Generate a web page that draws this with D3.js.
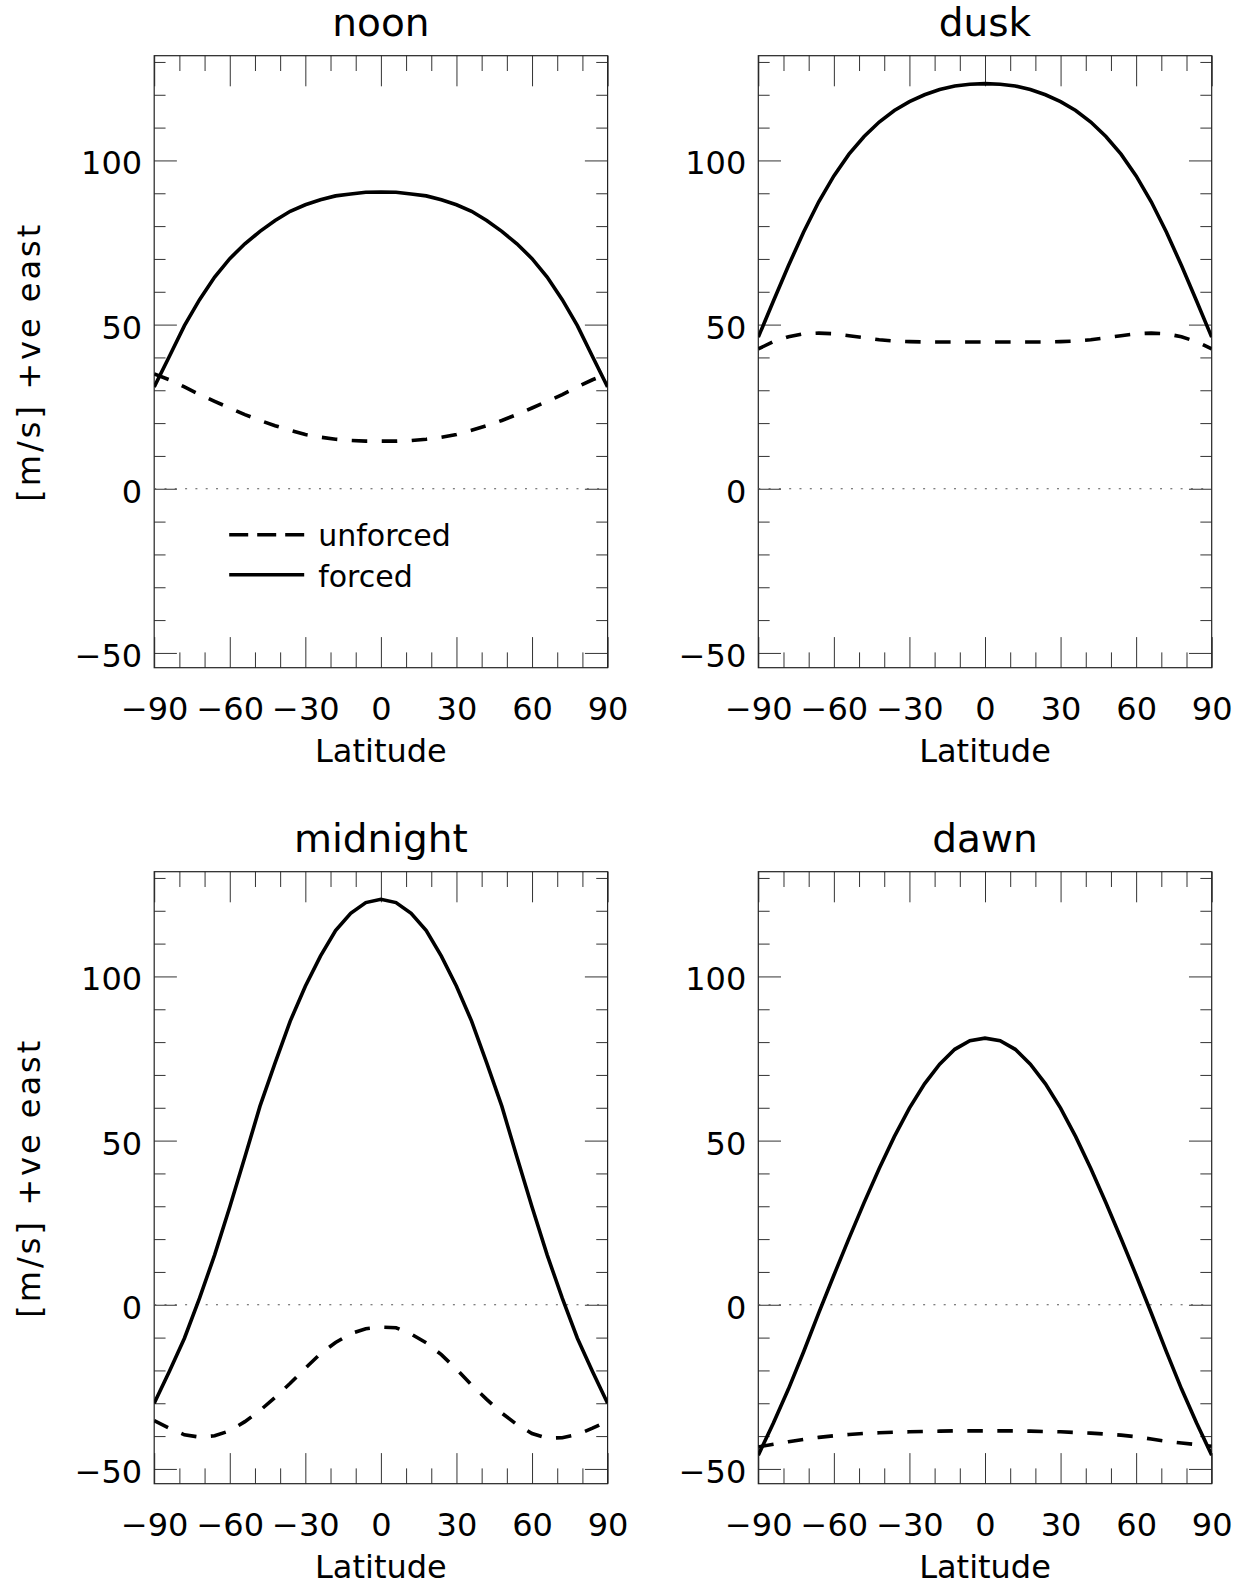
<!DOCTYPE html>
<html>
<head>
<meta charset="utf-8">
<script src="https://cdn.jsdelivr.net/npm/d3@7/dist/d3.min.js"></script>
<style>
  body { margin: 0; background: #fff; }
  svg text { font-family: "DejaVu Sans", sans-serif; fill: #000; }
</style>
</head>
<body>
<div id="chart"></div>
<script>
// latitude grid of the model output
const latitudes = [-90, -84, -78, -72, -66, -60, -54, -48, -42, -36, -30, -24, -18, -12, -6, 0,
  6, 12, 18, 24, 30, 36, 42, 48, 54, 60, 66, 72, 78, 84, 90];

// zonal wind [m/s], +ve east
const noonForced = [31.0, 40.3, 49.7, 57.6, 64.5, 70.1, 74.6, 78.4, 81.7, 84.5, 86.5, 88.0, 89.2, 89.8, 90.3, 90.4,
  90.3, 89.8, 89.2, 88.0, 86.5, 84.5, 81.7, 78.4, 74.6, 70.1, 64.5, 57.6, 49.7, 40.3, 31.0];
const noonUnforced = [35.0, 33.2, 31.0, 28.7, 26.6, 24.6, 22.6, 20.8, 19.2, 17.8, 16.5, 15.7, 15.1, 14.7, 14.5, 14.5,
  14.5, 14.7, 15.1, 15.7, 16.5, 17.8, 19.2, 20.8, 22.6, 24.6, 26.6, 28.7, 31.0, 33.2, 35.0];

const duskForced = [46.2, 57.2, 68.0, 78.2, 87.4, 95.3, 101.9, 107.3, 111.7, 115.2, 117.9, 120.0, 121.6, 122.7, 123.2, 123.4,
  123.2, 122.7, 121.6, 120.0, 117.9, 115.2, 111.7, 107.3, 101.9, 95.3, 87.4, 78.2, 68.0, 57.2, 46.2];
const duskUnforced = [42.6, 44.8, 46.3, 47.2, 47.4, 47.2, 46.6, 46.0, 45.4, 45.0, 44.8, 44.7, 44.7, 44.7, 44.7, 44.7,
  44.7, 44.7, 44.7, 44.7, 44.8, 45.0, 45.4, 46.0, 46.6, 47.2, 47.4, 47.2, 46.3, 44.8, 42.6];

const midnightForced = [-30.0, -20.3, -10.2, 2.0, 15.2, 29.8, 45.0, 60.5, 73.7, 86.4, 97.0, 106.2, 114.0, 119.2, 122.5, 123.5,
  122.5, 119.2, 114.0, 106.2, 97.0, 86.4, 73.7, 60.5, 45.0, 29.8, 15.2, 2.0, -10.2, -20.3, -30.0];
const midnightUnforced = [-35.3, -37.6, -39.6, -40.3, -39.9, -38.4, -35.6, -32.2, -28.2, -23.9, -19.3, -14.9, -11.5, -8.8, -7.3, -6.8,
  -7.0, -8.9, -11.6, -15.2, -19.6, -24.4, -28.8, -33.0, -36.5, -39.2, -40.6, -40.5, -39.5, -37.6, -35.5];

const dawnForced = [-45.8, -36.0, -25.6, -14.3, -2.5, 9.0, 20.2, 31.1, 41.5, 51.2, 59.9, 67.3, 73.3, 77.8, 80.4, 81.2,
  80.4, 77.8, 73.3, 67.3, 59.9, 51.2, 41.5, 31.1, 20.2, 9.0, -2.5, -14.3, -25.6, -36.0, -45.8];
const dawnUnforced = [-43.3, -42.5, -41.7, -41.0, -40.4, -39.9, -39.5, -39.2, -39.0, -38.8, -38.7, -38.6, -38.5, -38.4, -38.4, -38.4,
  -38.4, -38.4, -38.5, -38.6, -38.7, -38.9, -39.1, -39.4, -39.7, -40.2, -40.9, -41.6, -42.1, -42.6, -43.1];

const panelTitles = ["noon", "dusk", "midnight", "dawn"];
const legendLabels = ["unforced", "forced"];

const xMajorTicks = [-90, -60, -30, 0, 30, 60, 90];
const xMinorTicks = [-80, -70, -50, -40, -20, -10, 10, 20, 40, 50, 70, 80];
const yMajorTicks = [-50, 0, 50, 100];
const yMinorTicks = [-40, -30, -20, -10, 10, 20, 30, 40, 60, 70, 80, 90, 110, 120, 130];
const yDomain = [-54.5, 131.9];

const panels = [
  { title: panelTitles[0], forced: noonForced, unforced: noonUnforced, col: 0, row: 0 },
  { title: panelTitles[1], forced: duskForced, unforced: duskUnforced, col: 1, row: 0 },
  { title: panelTitles[2], forced: midnightForced, unforced: midnightUnforced, col: 0, row: 1 },
  { title: panelTitles[3], forced: dawnForced, unforced: dawnUnforced, col: 1, row: 1 }
];

const width = 1240, height = 1585;
const colLeft = [154.2, 758.3];
const rowTop = [55.7, 871.7];
const plotW = 453.4, plotH = 612;
const yTickLen = 22.7, xTickLen = 30.6;
const tickColor = "#333";

const svg = d3.select("#chart").append("svg")
  .attr("width", width)
  .attr("height", height);

const fmt = d => d < 0 ? "\u2212" + Math.abs(d) : String(d);

function tickAxis(g, axis, values, size) {
  g.call(axis.tickValues(values).tickSize(size).tickFormat(""));
  g.select(".domain").remove();
  g.selectAll("line").attr("stroke", tickColor).attr("stroke-width", 1);
}

panels.forEach((p, i) => {
  const g = svg.append("g")
    .attr("transform", `translate(${colLeft[p.col]},${rowTop[p.row]})`);

  const x = d3.scaleLinear().domain([-90, 90]).range([0, plotW]);
  const y = d3.scaleLinear().domain(yDomain).range([plotH, 0]);

  // inward ticks on all four sides
  tickAxis(g.append("g"), d3.axisRight(y), yMajorTicks, yTickLen);
  tickAxis(g.append("g"), d3.axisRight(y), yMinorTicks, yTickLen / 2);
  tickAxis(g.append("g").attr("transform", `translate(${plotW},0)`), d3.axisLeft(y), yMajorTicks, yTickLen);
  tickAxis(g.append("g").attr("transform", `translate(${plotW},0)`), d3.axisLeft(y), yMinorTicks, yTickLen / 2);
  tickAxis(g.append("g").attr("transform", `translate(0,${plotH})`), d3.axisTop(x), xMajorTicks, xTickLen);
  tickAxis(g.append("g").attr("transform", `translate(0,${plotH})`), d3.axisTop(x), xMinorTicks, xTickLen / 2);
  tickAxis(g.append("g"), d3.axisBottom(x), xMajorTicks, xTickLen);
  tickAxis(g.append("g"), d3.axisBottom(x), xMinorTicks, xTickLen / 2);

  // tick labels
  const yLab = g.append("g")
    .call(d3.axisLeft(y).tickValues(yMajorTicks).tickSize(0).tickFormat(fmt));
  yLab.select(".domain").remove();
  yLab.attr("font-size", null).attr("font-family", null);
  yLab.selectAll("text")
    .attr("x", -12).attr("dy", null).attr("y", 13.5)
    .style("font-size", "32px");

  const xLab = g.append("g")
    .attr("transform", `translate(0,${plotH})`)
    .call(d3.axisBottom(x).tickValues(xMajorTicks).tickSize(0).tickFormat(fmt));
  xLab.select(".domain").remove();
  xLab.attr("font-size", null).attr("font-family", null);
  xLab.selectAll("text")
    .attr("dy", null).attr("y", 52)
    .style("font-size", "32px");

  // frame
  g.append("rect")
    .attr("width", plotW).attr("height", plotH)
    .attr("fill", "none")
    .attr("stroke", "#222")
    .attr("stroke-width", 1.2);

  // zero line
  g.append("line")
    .attr("x1", x(-90)).attr("x2", x(90))
    .attr("y1", y(0)).attr("y2", y(0))
    .attr("stroke", "#555")
    .attr("stroke-width", 1)
    .attr("stroke-dasharray", "2,8.3");

  const clipId = "clip" + i;
  g.append("clipPath").attr("id", clipId)
    .append("rect").attr("width", plotW).attr("height", plotH);

  const line = d3.line()
    .x((d, j) => x(latitudes[j]))
    .y(d => y(d));

  const curves = g.append("g").attr("clip-path", `url(#${clipId})`);
  curves.append("path")
    .attr("d", line(p.unforced))
    .attr("fill", "none")
    .attr("stroke", "#000")
    .attr("stroke-width", 3.6)
    .attr("stroke-dasharray", "15.5,14.5");
  curves.append("path")
    .attr("d", line(p.forced))
    .attr("fill", "none")
    .attr("stroke", "#000")
    .attr("stroke-width", 3.6);

  // titles and axis labels
  g.append("text")
    .attr("x", plotW / 2).attr("y", -20)
    .attr("text-anchor", "middle")
    .style("font-size", "39px")
    .text(p.title);

  g.append("text")
    .attr("x", plotW / 2).attr("y", plotH + 94)
    .attr("text-anchor", "middle")
    .style("font-size", "32px")
    .text("Latitude");

  if (p.col === 0) {
    g.append("text")
      .attr("transform", `translate(${40 - colLeft[0]},${plotH / 2}) rotate(-90)`)
      .attr("text-anchor", "middle")
      .style("font-size", "32px")
      .style("letter-spacing", "3px")
      .text("[m/s] +ve east");
  }

  if (i === 0) {
    const leg = g.append("g").attr("transform", "translate(75,479)");
    leg.append("line")
      .attr("x1", 0).attr("x2", 75).attr("y1", 0).attr("y2", 0)
      .attr("stroke", "#000").attr("stroke-width", 3.6)
      .attr("stroke-dasharray", "19,9");
    leg.append("line")
      .attr("x1", 0).attr("x2", 75).attr("y1", 40).attr("y2", 40)
      .attr("stroke", "#000").attr("stroke-width", 3.6);
    leg.selectAll("text.leg")
      .data(legendLabels)
      .enter()
      .append("text")
      .attr("class", "leg")
      .attr("x", 89)
      .attr("y", (d, j) => 11 + j * 41)
      .style("font-size", "30px")
      .text(d => d);
  }
});
</script>
</body>
</html>
